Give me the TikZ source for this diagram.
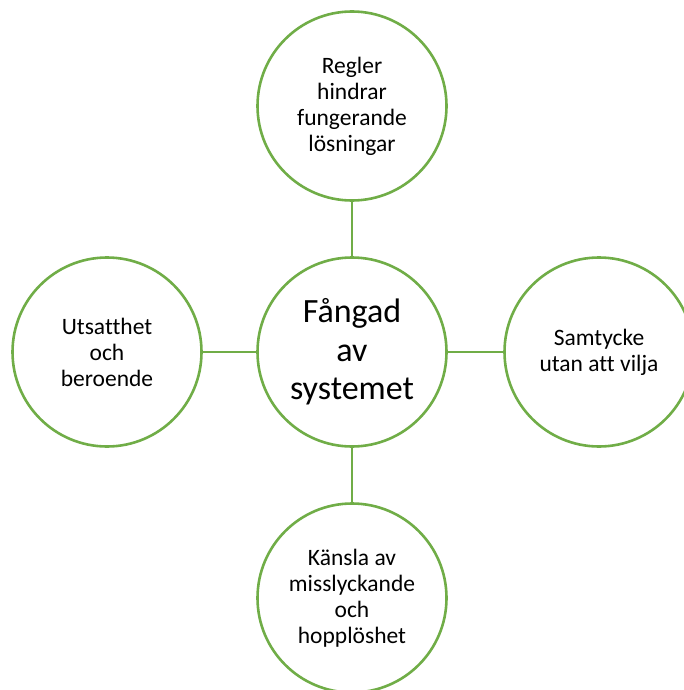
\documentclass[tikz,border=0pt]{standalone}
\usepackage{fontspec}
\setmainfont{Carlito}[Ligatures=NoCommon]
\definecolor{ringgreen}{HTML}{70AD47}

\begin{document}
\begin{tikzpicture}[x=1pt,y=-1pt,
    ring/.style={circle,draw=ringgreen,line width=2.6pt,fill=white,minimum size=189pt,
      inner sep=0pt,align=center,font=\fontsize{23.5}{26}\selectfont},
    hub/.style={ring,font=\fontsize{34}{38.5}\selectfont},
    spoke/.style={draw=ringgreen,line width=2.6pt}]
    \useasboundingbox (0,0) rectangle (683,690);
    \node[hub]  (Fangad)  at (352,352) {Fångad\\av\\systemet};
    \node[ring] (Regler)  at (352,106) {Regler\\hindrar\\fungerande\\lösningar};
    \node[ring] (Utsatt)  at (107,352) {Utsatthet\\och\\beroende};
    \node[ring] (Samtyck) at (599,352) {Samtycke\\utan att vilja};
    \node[ring] (Kansla)  at (352,598) {Känsla av\\misslyckande\\och\\hopplöshet};
    \foreach \n in {Regler,Utsatt,Samtyck,Kansla}
      \draw[spoke] (Fangad) -- (\n);
\end{tikzpicture}
\end{document}
